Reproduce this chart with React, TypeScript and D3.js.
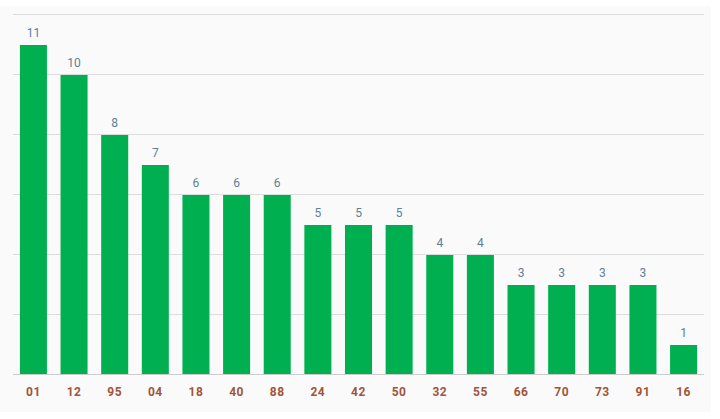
import React from "react";
import * as d3 from "d3";

const categories = ["01", "12", "95", "04", "18", "40", "88", "24", "42", "50", "32", "55", "66", "70", "73", "91", "16"];
const values = [11, 10, 8, 7, 6, 6, 6, 5, 5, 5, 4, 4, 3, 3, 3, 3, 1];
const gridTicks = [0, 2, 4, 6, 8, 10, 12];

const W = 720;
const H = 419;

export default function App() {
  const x = d3
    .scaleBand<string>()
    .domain(categories)
    .range([13, 704])
    .paddingInner(0.335)
    .paddingOuter(0.17);
  const y = d3.scaleLinear().domain([0, 12]).range([375, 15]);

  return (
    <svg
      width={W}
      height={H}
      style={{ position: "absolute", left: 0, top: 0, display: "block" }}
      fontFamily="Roboto, 'Noto Sans', sans-serif"
    >
      <rect x={0} y={0} width={W} height={H} fill="#ffffff" />
      <rect x={0} y={6} width={711} height={406} fill="#fafafa" />
      {gridTicks.map((t) => (
        <line
          key={t}
          x1={13}
          x2={704}
          y1={Math.round(y(t)) - 0.5}
          y2={Math.round(y(t)) - 0.5}
          stroke={t === 0 ? "#cccccc" : "#dcdcdc"}
          strokeWidth={1}
        />
      ))}
      {categories.map((c, i) => (
        <g key={c}>
          <rect
            x={x(c)}
            y={y(values[i])}
            width={x.bandwidth()}
            height={y(0) - y(values[i]) - 1}
            fill="#00b050"
          />
          <text
            x={(x(c) as number) + x.bandwidth() / 2}
            y={y(values[i]) - 8}
            textAnchor="middle"
            fontSize={12}
            fill="#5f7f98"
          >
            {values[i]}
          </text>
          <text
            x={(x(c) as number) + x.bandwidth() / 2}
            y={396}
            textAnchor="middle"
            fontSize={12}
            fontWeight="bold"
            letterSpacing={0.5}
            fill="#a0553a"
          >
            {c}
          </text>
        </g>
      ))}
    </svg>
  );
}
